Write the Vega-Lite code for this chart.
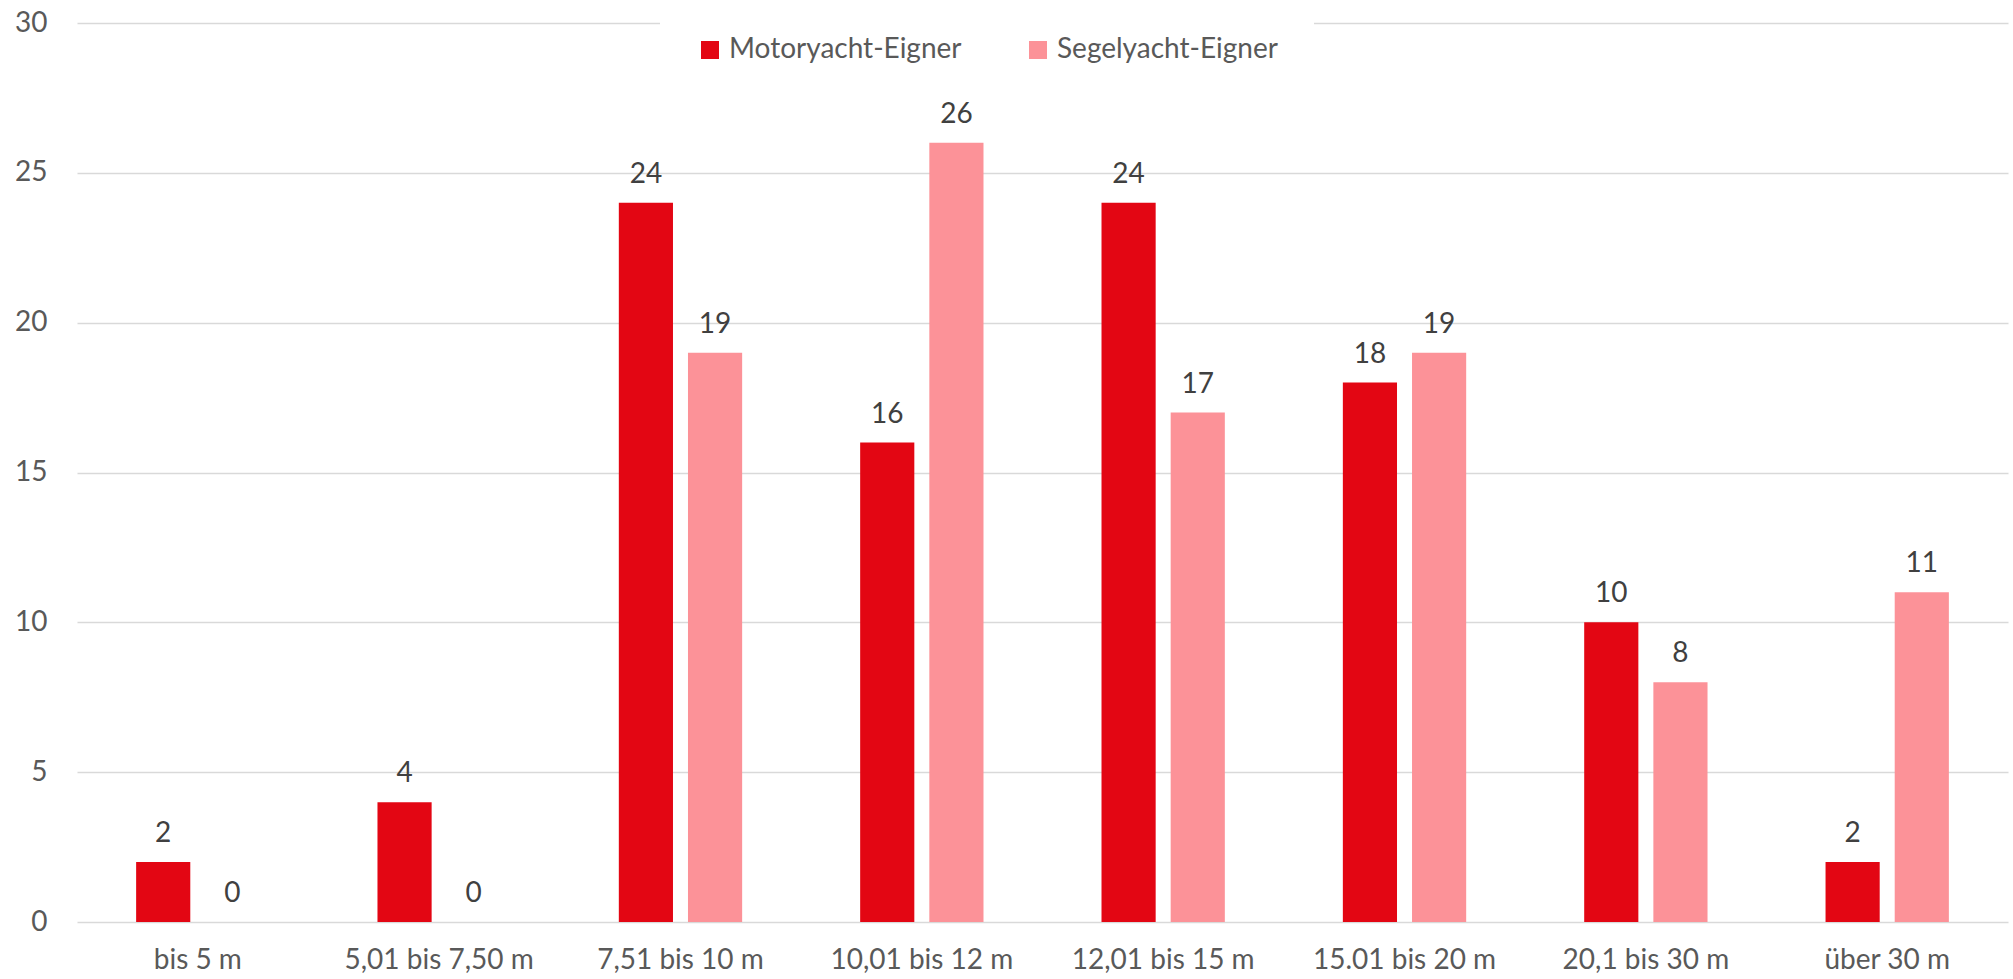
{
  "$schema": "https://vega.github.io/schema/vega-lite/v6.json",
  "width": 1931,
  "height": 899,
  "autosize": {"type": "none"},
  "padding": {"left": 77, "top": 23, "right": 5, "bottom": 57},
  "background": "white",
  "config": {
    "view": {"stroke": null},
    "font": "Lato",
    "text": {"font": "Lato"}
  },
  "data": {
    "values": [
      {"laenge": "bis 5 m", "gruppe": "Motoryacht-Eigner", "wert": 2},
      {"laenge": "bis 5 m", "gruppe": "Segelyacht-Eigner", "wert": 0},
      {"laenge": "5,01 bis 7,50 m", "gruppe": "Motoryacht-Eigner", "wert": 4},
      {"laenge": "5,01 bis 7,50 m", "gruppe": "Segelyacht-Eigner", "wert": 0},
      {"laenge": "7,51 bis 10 m", "gruppe": "Motoryacht-Eigner", "wert": 24},
      {"laenge": "7,51 bis 10 m", "gruppe": "Segelyacht-Eigner", "wert": 19},
      {"laenge": "10,01 bis 12 m", "gruppe": "Motoryacht-Eigner", "wert": 16},
      {"laenge": "10,01 bis 12 m", "gruppe": "Segelyacht-Eigner", "wert": 26},
      {"laenge": "12,01 bis 15 m", "gruppe": "Motoryacht-Eigner", "wert": 24},
      {"laenge": "12,01 bis 15 m", "gruppe": "Segelyacht-Eigner", "wert": 17},
      {"laenge": "15.01 bis 20 m", "gruppe": "Motoryacht-Eigner", "wert": 18},
      {"laenge": "15.01 bis 20 m", "gruppe": "Segelyacht-Eigner", "wert": 19},
      {"laenge": "20,1 bis 30 m", "gruppe": "Motoryacht-Eigner", "wert": 10},
      {"laenge": "20,1 bis 30 m", "gruppe": "Segelyacht-Eigner", "wert": 8},
      {"laenge": "über 30 m", "gruppe": "Motoryacht-Eigner", "wert": 2},
      {"laenge": "über 30 m", "gruppe": "Segelyacht-Eigner", "wert": 11}
    ]
  },
  "encoding": {
    "x": {
      "field": "laenge",
      "type": "nominal",
      "sort": null,
      "scale": {"paddingInner": 0.489, "paddingOuter": 0.245},
      "axis": {
        "title": null,
        "labelAngle": 0,
        "labelFont": "Lato",
        "labelFontSize": 28,
        "labelColor": "#595959",
        "labelPadding": 24,
        "labelLimit": 400,
        "ticks": false,
        "domain": false,
        "grid": false
      }
    },
    "xOffset": {
      "field": "gruppe",
      "type": "nominal",
      "sort": ["Motoryacht-Eigner", "Segelyacht-Eigner"],
      "scale": {"paddingInner": 0.217, "paddingOuter": 0}
    },
    "y": {
      "field": "wert",
      "type": "quantitative",
      "scale": {"domain": [0, 30], "nice": false},
      "axis": {
        "title": null,
        "values": [0, 5, 10, 15, 20, 25, 30],
        "labelFont": "Lato",
        "labelFontSize": 28,
        "labelColor": "#595959",
        "labelPadding": 30,
        "ticks": false,
        "domain": false,
        "grid": true,
        "gridColor": "#D9D9D9",
        "gridWidth": 1.5
      }
    }
  },
  "layer": [
    {
      "mark": {"type": "bar"},
      "encoding": {
        "color": {
          "field": "gruppe",
          "type": "nominal",
          "sort": ["Motoryacht-Eigner", "Segelyacht-Eigner"],
          "scale": {"domain": ["Motoryacht-Eigner", "Segelyacht-Eigner"], "range": ["#E30613", "#FC9298"]},
          "legend": {
            "title": null,
            "orient": "none",
            "direction": "horizontal",
            "legendX": 583,
            "legendY": -23,
            "padding": 36,
            "fillColor": "white",
            "strokeColor": null,
            "symbolType": "square",
            "symbolSize": 324,
            "symbolStrokeWidth": 0,
            "symbolOpacity": 1,
            "labelFont": "Lato",
            "labelFontSize": 28,
            "labelColor": "#595959",
            "labelOffset": 5,
            "labelLimit": 400,
            "columnPadding": 62
          }
        }
      }
    },
    {
      "mark": {"type": "text", "baseline": "alphabetic", "dy": -20, "font": "Lato", "fontSize": 28, "color": "#404040"},
      "encoding": {
        "text": {"field": "wert", "type": "quantitative"}
      }
    }
  ]
}
